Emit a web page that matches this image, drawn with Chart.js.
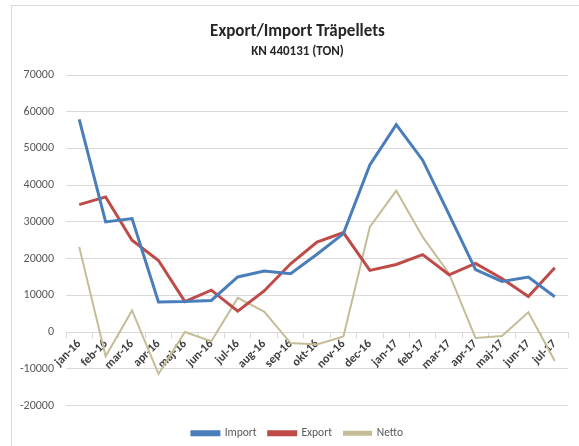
<!DOCTYPE html>
<html>
<head>
<meta charset="utf-8">
<script src="https://cdn.jsdelivr.net/npm/chart.js@4"></script>
<style>
  html, body { margin: 0; padding: 0; background: #fff; overflow: hidden; }
  #frame { position: absolute; left: 11px; top: 5px; width: 700px; height: 600px; border: 1px solid #d9d9d9; }
  #wrap { position: absolute; left: 0; top: 0; width: 579px; height: 446px; }
</style>
</head>
<body>
<div id="frame"></div>
<div id="wrap"><canvas id="chart" width="579" height="446"></canvas></div>
<script>
const months = ["jan-16", "feb-16", "mar-16", "apr-16", "maj-16", "jun-16", "jul-16", "aug-16", "sep-16",
    "okt-16", "nov-16", "dec-16", "jan-17", "feb-17", "mar-17", "apr-17", "maj-17", "jun-17", "jul-17"];

// values (ton)
const importData = [57900, 30000, 30900, 8200, 8300, 8600, 15000, 16600, 15900,
    21200, 26800, 45500, 56500, 46800, 32000, 17000, 13800, 15000, 9600];
const exportData = [34700, 36800, 25000, 19500, 8300, 11400, 5700, 11200, 18600,
    24500, 27100, 16800, 18400, 21100, 15600, 18700, 14600, 9700, 17500];
const nettoData = [23200, -6600, 5900, -11400, 0, -2500, 9300, 5600, -3000,
    -3400, -1200, 28600, 38500, 25900, 15900, -1600, -1100, 5400, -7900];

const yMin = -20000;
const yMax = 70000;
const yStep = 10000;

Chart.defaults.font.family = "Carlito, Lato, sans-serif";
Chart.defaults.color = "#595959";

const makeSet = (label, data, color, width) => ({
    label,
    data,
    borderColor: color,
    backgroundColor: color,
    borderWidth: width,
    pointRadius: 0,
    tension: 0,
    fill: false,
});

new Chart(document.getElementById("chart"), {
    type: "line",
    data: {
        labels: months,
        datasets: [
            makeSet("Import", importData, "#4a7ebb", 3),
            makeSet("Export", exportData, "#be4b48", 3),
            makeSet("Netto", nettoData, "#c4bd97", 2),
        ]
    },
    options: {
        responsive: false,
        animation: false,
        // small negative bottom pad lets the legend sit lower without squeezing the plot
        layout: { padding: { top: 0, left: 16, right: 0, bottom: -3 } },
        plugins: {
            title: {
                display: true,
                text: "Export/Import Träpellets",
                color: "#262626",
                font: { size: 17, weight: "bold" },
                padding: { top: 22, bottom: 2 },
            },
            subtitle: {
                display: true,
                text: "KN 440131 (TON)",
                color: "#262626",
                font: { size: 13, weight: "bold" },
                padding: { top: 0, bottom: 15 },
            },
            legend: {
                position: "bottom",
                // empty legend title only pushes the items down a bit
                title: { display: true, text: " ", font: { size: 10, lineHeight: 1 }, padding: 0 },
                labels: {
                    boxWidth: 27,
                    boxHeight: 3,
                    padding: 12,
                    color: "#595959",
                    font: { size: 11.5 },
                },
            },
            tooltip: { enabled: false },
        },
        scales: {
            x: {
                position: { y: 0 },
                offset: true,
                grid: {
                    offset: true,
                    drawOnChartArea: false,
                    drawTicks: true,
                    tickLength: 5,
                    color: "#d9d9d9",
                },
                border: { display: true, color: "#d9d9d9" },
                ticks: {
                    autoSkip: false,
                    minRotation: 45,
                    maxRotation: 45,
                    padding: 0,
                    color: "#404040",
                    font: { size: 12, weight: "bold" },
                },
            },
            y: {
                min: yMin,
                max: yMax,
                afterFit: s => { s.width = 50; },
                grid: { color: "#d9d9d9", drawTicks: false, lineWidth: 1 },
                border: { display: false },
                ticks: {
                    stepSize: yStep,
                    padding: 12,
                    color: "#595959",
                    font: { size: 12 },
                    callback: v => String(v),
                },
            },
            yRight: {
                position: "right",
                afterFit: s => { s.width = 11; },
                grid: { display: false },
                border: { display: false },
                ticks: { display: false },
            },
        },
    },
});
</script>
</body>
</html>
